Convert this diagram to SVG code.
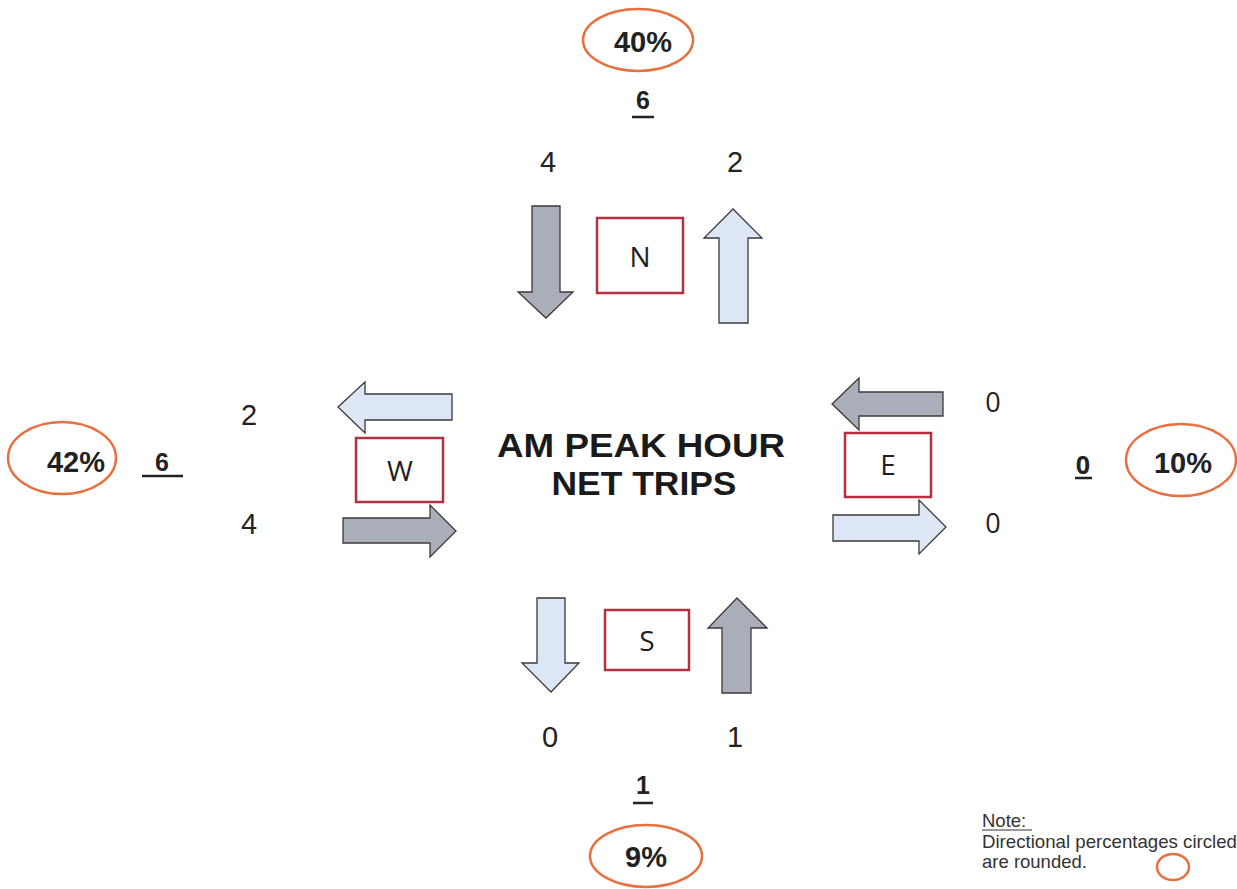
<svg xmlns="http://www.w3.org/2000/svg" width="1237" height="889" viewBox="0 0 1237 889">
<style>
.bg{fill:#ffffff}
.box{fill:#ffffff;stroke:#b3303f;stroke-width:2.5}
.ring{fill:none;stroke:#e8703f;stroke-width:2.5}
.gray{fill:#a9aeb9;stroke:#3a3a3a;stroke-width:1.3;stroke-linejoin:miter}
.blue{fill:#dce6f5;stroke:#3a3a3a;stroke-width:1.3;stroke-linejoin:miter}
.lbl{font-family:"Open Sans","Noto Sans",sans-serif;font-size:28px;fill:#1e1e1e;text-anchor:middle}
.num{font-family:"Liberation Sans",Arial,sans-serif;font-size:29px;fill:#222;text-anchor:middle}
.numc{font-family:"Open Sans","Noto Sans",sans-serif;font-size:27px;fill:#222;text-anchor:middle}
.pct{font-family:"Liberation Sans",Arial,sans-serif;font-size:29px;font-weight:bold;fill:#222;text-anchor:middle}
.tot{font-family:"Liberation Sans",Arial,sans-serif;font-size:25px;font-weight:bold;fill:#222;text-anchor:middle}
.title{font-family:"Liberation Sans",Arial,sans-serif;font-size:33px;font-weight:bold;fill:#1a1a1a;text-anchor:middle}
.note{font-family:"Liberation Sans",Arial,sans-serif;font-size:18.5px;fill:#333}
.ul{stroke:#222;stroke-width:2.5}
</style>
<rect class="bg" x="0" y="0" width="1237" height="889"/>

<g id="title">
<text class="title" x="641" y="457" textLength="288" lengthAdjust="spacingAndGlyphs">AM PEAK HOUR</text>
<text class="title" x="644" y="495" textLength="185" lengthAdjust="spacingAndGlyphs">NET TRIPS</text>
</g>

<g id="arrows">
<path class="gray" d="M532,206 H560 V292 H573 L546,318 L518,292 H532 Z"/>
<path class="blue" d="M719,323 V238 H704 L733,209 L762,238 H748 V323 Z"/>
<path class="blue" d="M452,394 H365 V382 L338,407 L365,433 V420 H452 Z"/>
<path class="gray" d="M343,518 H430 V505 L456,531 L430,557 V543 H343 Z"/>
<path class="gray" d="M943,392 H859 V378 L832,404 L859,430 V416 H943 Z"/>
<path class="blue" d="M833,515 H919 V500 L946,527 L919,554 V541 H833 Z"/>
<path class="blue" d="M537,598 H565 V663 H579 L551,692 L522,663 H537 Z"/>
<path class="gray" d="M722,693 V628 H708 L737,598 L767,628 H751 V693 Z"/>
</g>

<g id="node-north">
<rect class="box" x="597" y="218" width="86" height="75"/>
<text class="lbl" x="640" y="267">N</text>
<text class="num" x="548" y="172">4</text>
<text class="num" x="735" y="172">2</text>
<text class="tot" x="643" y="109">6</text>
<line class="ul" x1="632" y1="117" x2="654" y2="117"/>
<ellipse class="ring" cx="638" cy="40" rx="55" ry="31"/>
<text class="pct" x="643" y="52">40%</text>
</g>

<g id="node-west">
<rect class="box" x="356" y="438" width="87" height="64"/>
<text class="lbl" x="400" y="481">W</text>
<text class="num" x="249" y="425">2</text>
<text class="num" x="249" y="534">4</text>
<text class="tot" x="162" y="471">6</text>
<line class="ul" x1="142" y1="476" x2="183" y2="476"/>
<ellipse class="ring" cx="62" cy="458" rx="54" ry="36"/>
<text class="pct" x="76" y="472">42%</text>
</g>

<g id="node-east">
<rect class="box" x="845" y="433" width="86" height="64"/>
<text class="lbl" x="888" y="475">E</text>
<text class="numc" x="993" y="412">0</text>
<text class="numc" x="993" y="533">0</text>
<text class="tot" x="1083" y="474" style="font-family:'Open Sans','Noto Sans',sans-serif">0</text>
<line class="ul" x1="1075" y1="478" x2="1092" y2="478"/>
<ellipse class="ring" cx="1181" cy="460" rx="55" ry="36"/>
<text class="pct" x="1183" y="473">10%</text>
</g>

<g id="node-south">
<rect class="box" x="605" y="610" width="84" height="60"/>
<text class="lbl" x="647" y="651">S</text>
<text class="num" x="550" y="747">0</text>
<text class="num" x="735" y="747">1</text>
<text class="tot" x="643" y="794">1</text>
<line class="ul" x1="633" y1="803" x2="653" y2="803"/>
<ellipse class="ring" cx="646" cy="856" rx="56" ry="31"/>
<text class="pct" x="646" y="867">9%</text>
</g>

<g id="note">
<text class="note" x="982" y="827">Note:</text>
<line x1="982" y1="830" x2="1032" y2="830" stroke="#333" stroke-width="1.2"/>
<text class="note" x="982" y="848" textLength="255" lengthAdjust="spacingAndGlyphs">Directional percentages circled</text>
<text class="note" x="982" y="868">are rounded.</text>
<ellipse class="ring" cx="1173" cy="867" rx="16" ry="13"/>
</g>
</svg>
